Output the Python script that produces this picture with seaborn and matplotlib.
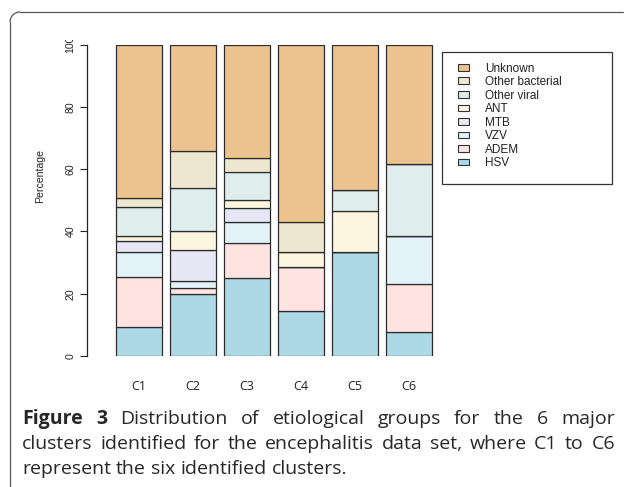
import numpy as np
import pandas as pd
import matplotlib
matplotlib.use("Agg")
import matplotlib.pyplot as plt
import seaborn as sns
from matplotlib.patches import Rectangle, Patch, Arc
from matplotlib.lines import Line2D
from matplotlib.transforms import Bbox, TransformedBbox

# ---------------- data ----------------
clusters = ["C1", "C2", "C3", "C4", "C5", "C6"]
groups = ["HSV", "ADEM", "VZV", "MTB", "ANT", "Other viral", "Other bacterial", "Unknown"]
hsv = [9.2, 20.0, 25.0, 14.3, 33.3, 7.7]
adem = [16.1, 2.0, 11.4, 14.3, 0.0, 15.4]
vzv = [8.1, 2.0, 6.8, 0.0, 0.0, 15.4]
mtb = [3.7, 10.0, 4.5, 0.0, 0.0, 0.0]
ant = [1.6, 6.0, 2.3, 4.8, 13.3, 0.0]
other_viral = [9.2, 14.0, 9.1, 0.0, 6.7, 23.1]
other_bacterial = [2.7, 12.0, 4.5, 9.5, 0.0, 0.0]
unknown = [49.4, 34.0, 36.4, 57.1, 46.7, 38.4]
colors = ["#ADD8E6", "#FFE4E1", "#E2F2F6", "#E6E6F5", "#FCF6DE", "#DFEDED", "#EEE7D0", "#ECC38E"]
yticks = [0, 20, 40, 60, 80, 100]

W, H = 627, 487
sns.set_theme(style="white")
plt.rcParams["font.family"] = ["Liberation Sans", "DejaVu Sans"]
fig = plt.figure(figsize=(W / 100, H / 100), dpi=100)

def fx(px):
    return px / W

def fy(py):
    return 1 - py / H

# axes: spine at x=86.7, y 0 at 356, 100 at 44.7
x0c, step = 138.85, 54.03
xl, xr = (86.7 - x0c) / step, 5.6
ax_left, ax_right = 86.7, x0c + xr * step
ax = fig.add_axes([fx(ax_left), fy(356), fx(ax_right - ax_left), (356 - 44.7) / H])

series = [hsv, adem, vzv, mtb, ant, other_viral, other_bacterial, unknown]
bottom = np.zeros(len(clusters))
for name, vals, col in zip(groups, series, colors):
    vals = np.asarray(vals, dtype=float)
    df = pd.DataFrame({"cluster": clusters, "value": vals})
    sns.barplot(data=df, x="cluster", y="value", order=clusters, color=col,
                bottom=bottom, width=0.845, errorbar=None, ax=ax,
                edgecolor="#2b2b2b", linewidth=0.9, saturation=1)
    bottom = bottom + vals

ax.set_xlim(xl, xr)
ax.set_ylim(0, 100)
ax.set_xlabel("")
ax.set_ylabel("")
for s in ["top", "right", "bottom"]:
    ax.spines[s].set_visible(False)
ax.spines["left"].set_color("#222222")
ax.spines["left"].set_linewidth(0.9)
ax.set_yticks(yticks)
ax.set_yticklabels([str(t) for t in yticks], rotation=90, va="center", fontsize=7.6, color="#222222")
ax.tick_params(axis="y", left=True, length=4.7, width=0.8, pad=3.5, color="#222222")
ax.tick_params(axis="x", bottom=False, length=0, pad=17)
ax.set_xticks(range(len(clusters)))
ax.set_xticklabels(clusters, fontsize=9, family=["Open Sans", "DejaVu Sans"], color="#222222")

# clip the top tick label like in the reference
clipbox = TransformedBbox(Bbox([[0, 0], [1, fy(39.5)]]), fig.transFigure)
for lab in ax.get_yticklabels():
    lab.set_clip_on(True)
    lab.set_clip_box(clipbox)

fig.text(fx(40), fy(176), "Percentage", rotation=90, ha="center", va="center",
         fontsize=7.6, color="#222222")

# legend
handles = [Patch(facecolor=c, edgecolor="#333333", linewidth=0.8, label=g)
           for g, c in zip(groups, colors)][::-1]
leg = fig.legend(handles=handles, loc="upper left", bbox_to_anchor=(fx(458), fy(62.5)),
                 frameon=False, fontsize=8.5, borderpad=0, borderaxespad=0,
                 handlelength=0.95, handleheight=0.5, handletextpad=1.35,
                 labelspacing=0.13)
for t in leg.get_texts():
    t.set_color("#222222")
fig.patches.append(Rectangle((fx(442), fy(184)), fx(612 - 442), (184 - 52) / H,
                             transform=fig.transFigure, fill=False,
                             edgecolor="#333333", linewidth=0.9))

# outer frame (top + left with rounded corner)
r = 10
fcol = "#555555"
fig.add_artist(Line2D([fx(10), fx(10)], [fy(487), fy(12 + r)], transform=fig.transFigure,
                      color=fcol, linewidth=0.9))
fig.add_artist(Line2D([fx(10 + r), fx(623)], [fy(12), fy(12)], transform=fig.transFigure,
                      color=fcol, linewidth=0.9))
fig.add_artist(Arc((fx(10 + r), fy(12 + r)), fx(2 * r), 2 * r / H, theta1=90, theta2=180,
                   transform=fig.transFigure, color=fcol, linewidth=0.9))

# caption (justified lines)
cap_font = ["Open Sans", "DejaVu Sans"]
cap_size = 14
cap_color = "#2a2627"
lines = [
    ([("Figure", "bold"), ("3", "bold"), ("Distribution", "normal"), ("of", "normal"),
      ("etiological", "normal"), ("groups", "normal"), ("for", "normal"), ("the", "normal"),
      ("6", "normal"), ("major", "normal")], 424, True),
    ([(w, "normal") for w in "clusters identified for the encephalitis data set, where C1 to C6".split()], 449, True),
    ([(w, "normal") for w in "represent the six identified clusters.".split()], 474, False),
]
renderer = fig.canvas.get_renderer()
sp = fig.text(0, 0, "a a", fontsize=cap_size, family=cap_font)
sp2 = fig.text(0, 0, "aa", fontsize=cap_size, family=cap_font)
space_w = sp.get_window_extent(renderer).width - sp2.get_window_extent(renderer).width
sp.remove(); sp2.remove()
xL, xR = 22, 615
for words, base, just in lines:
    ts = [fig.text(0, fy(base), w, fontsize=cap_size, fontweight=wt, family=cap_font,
                   color=cap_color, va="baseline", ha="left") for w, wt in words]
    widths = [t.get_window_extent(renderer).width for t in ts]
    gap = (xR - xL - sum(widths)) / (len(ts) - 1) if just else space_w
    x = xL
    for t, w in zip(ts, widths):
        t.set_x(fx(x))
        x += w + gap

fig.savefig("out.png", dpi=100)
